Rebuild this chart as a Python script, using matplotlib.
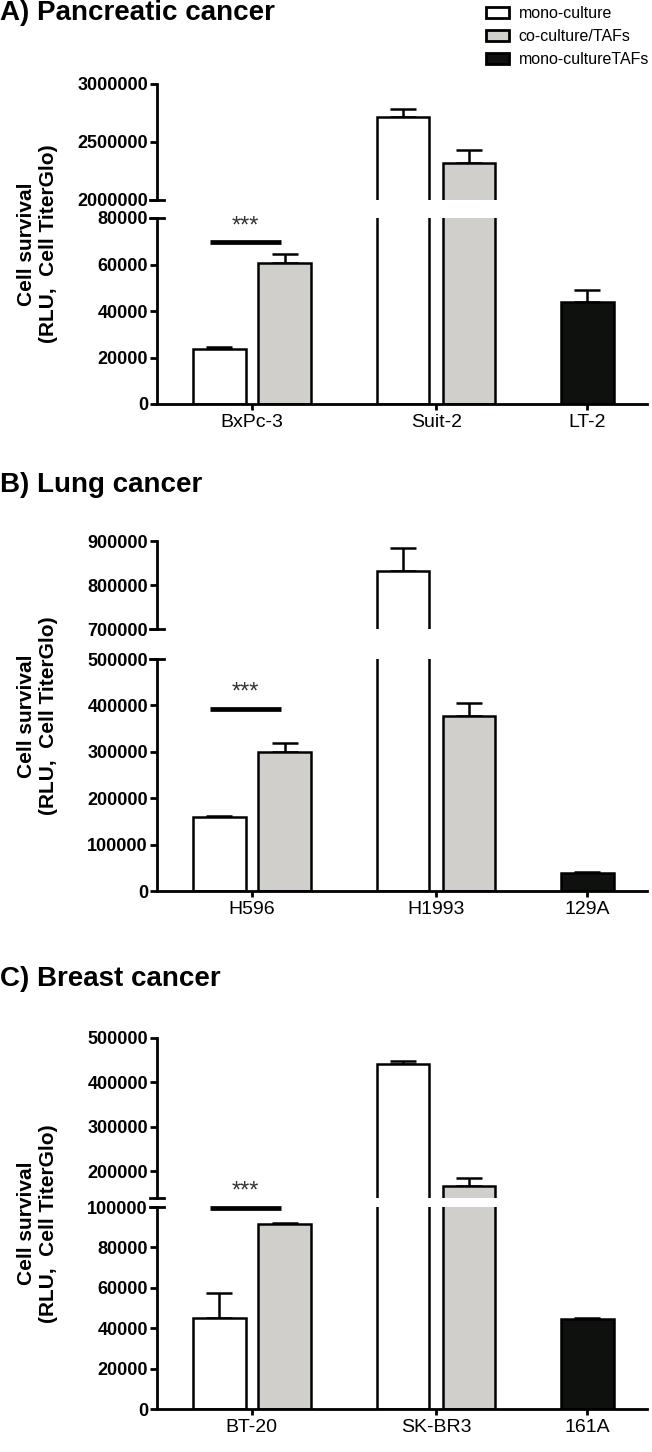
import numpy as np
import matplotlib.pyplot as plt
from matplotlib.patches import Patch

plt.rcParams['font.family'] = ['Liberation Sans', 'DejaVu Sans']

W, H = 652, 1452

series = ['mono-culture', 'co-culture/TAFs', 'mono-cultureTAFs']
ylabel = 'Cell survival\n(RLU,  Cell TiterGlo)'

# A) Pancreatic cancer
a_title = 'A) Pancreatic cancer'
a_cells = ['BxPc-3', 'Suit-2', 'LT-2']
a_mono = [23600, 2718000]
a_mono_err = [1000, 64000]
a_co = [60800, 2316000]
a_co_err = [3600, 115000]
a_tafs = [43800]
a_tafs_err = [5100]
a_upper_ticks = [2000000, 2500000, 3000000]
a_lower_ticks = [0, 20000, 40000, 60000, 80000]
a_sig = 69750

# B) Lung cancer
b_title = 'B) Lung cancer'
b_cells = ['H596', 'H1993', '129A']
b_mono = [158700, 831400]
b_mono_err = [3500, 52700]
b_co = [300600, 377400]
b_co_err = [19400, 27300]
b_tafs = [38000]
b_tafs_err = [3500]
b_upper_ticks = [700000, 800000, 900000]
b_lower_ticks = [0, 100000, 200000, 300000, 400000, 500000]
b_sig = 391800

# C) Breast cancer
c_title = 'C) Breast cancer'
c_cells = ['BT-20', 'SK-BR3', '161A']
c_mono = [45200, 441400]
c_mono_err = [12400, 7500]
c_co = [91600, 167300]
c_co_err = [650, 16700]
c_tafs = [44400]
c_tafs_err = [800]
c_upper_ticks = [200000, 300000, 400000, 500000]
c_lower_ticks = [0, 20000, 40000, 60000, 80000, 100000]
c_sig = 99500

# layout (x in bar-width units, y in pixels of the figure)
mono_x = [1.18, 4.67]
co_x = [2.42, 5.92]
tafs_x = [8.17]
group_x = [1.8, 5.3, 8.17]
sig_x = [1.0, 2.35]
XMAX = 9.3
AX_LEFT, AX_RIGHT = 157, 647

GREY = '#d0cfcb'
BLACK = '#0f110e'
LW = 1.8


def px_axes(fig, top, bottom):
    return fig.add_axes([AX_LEFT / W, 1 - bottom / H, (AX_RIGHT - AX_LEFT) / W, (bottom - top) / H])


def draw_bars(ax, mono, mono_err, co, co_err, tafs, tafs_err):
    for xs, vals, errs, col in [(mono_x, mono, mono_err, 'white'),
                                (co_x, co, co_err, GREY),
                                (tafs_x, tafs, tafs_err, BLACK)]:
        ax.bar(xs, vals, width=1.0, color=col, edgecolor='black', linewidth=LW, zorder=2)
        ax.errorbar(xs, vals, yerr=[np.zeros(len(errs)), errs], fmt='none', ecolor='black',
                    elinewidth=LW, capsize=9.5, capthick=LW, zorder=1)


def style_axis(ax, ticks, lim, bottom_spine):
    ax.set_xlim(0, XMAX)
    ax.set_ylim(*lim)
    ax.set_yticks(ticks)
    ax.set_yticklabels([str(t) for t in ticks], fontsize=13, fontweight='bold')
    ax.spines['top'].set_visible(False)
    ax.spines['right'].set_visible(False)
    ax.spines['left'].set_linewidth(2.0)
    ax.spines['bottom'].set_linewidth(2.0)
    ax.spines['bottom'].set_visible(bottom_spine)
    ax.tick_params(axis='y', length=5, width=2.0, pad=1.5)
    ax.set_facecolor('none')


def panel(fig, title, title_base, cells, mono, mono_err, co, co_err, tafs, tafs_err,
          up_ticks, up_lim, lo_ticks, lo_lim, sig, rows):
    top, brk_hi, brk_lo, bottom = rows
    fig.text(0.0, 1 - title_base / H, title, fontsize=20, fontweight='bold', va='baseline', ha='left')

    ax_up = px_axes(fig, top, brk_hi)
    ax_lo = px_axes(fig, brk_lo, bottom)
    for ax in (ax_up, ax_lo):
        draw_bars(ax, mono, mono_err, co, co_err, tafs, tafs_err)
    style_axis(ax_up, up_ticks, up_lim, False)
    style_axis(ax_lo, lo_ticks, lo_lim, True)
    ax_up.set_xticks([])
    ax_lo.set_xticks(group_x)
    ax_lo.set_xticklabels(cells, fontsize=14)
    ax_lo.tick_params(axis='x', length=4.5, width=2.0, pad=3)

    # break feet on the split y axis
    ax_up.plot([-0.014, 0.014], [0, 0], transform=ax_up.transAxes, color='black', lw=2.0, clip_on=False)
    ax_lo.plot([-0.014, 0.014], [1, 1], transform=ax_lo.transAxes, color='black', lw=2.0, clip_on=False)

    # significance bar
    span = lo_lim[1] - lo_lim[0]
    ax_lo.plot(sig_x, [sig, sig], color='black', lw=3.4, clip_on=False, solid_capstyle='butt')
    ax_lo.text(np.mean(sig_x), sig + span * 0.025, '***', fontsize=17, color='#333333',
               ha='center', va='bottom', clip_on=False)

    mid = (top + bottom) / 2
    fig.text(37.5 / W, 1 - mid / H, ylabel, rotation=90, fontsize=15, fontweight='bold',
             ha='center', va='center', multialignment='center', linespacing=1.15)


fig = plt.figure(figsize=(W / 100, H / 100), dpi=100)

panel(fig, a_title, 20.5, a_cells, a_mono, a_mono_err, a_co, a_co_err, a_tafs, a_tafs_err,
      a_upper_ticks, (2000000, 3000000), a_lower_ticks, (0, 80000), a_sig, (84, 200, 218, 404))
panel(fig, b_title, 491.5, b_cells, b_mono, b_mono_err, b_co, b_co_err, b_tafs, b_tafs_err,
      b_upper_ticks, (700000, 900000), b_lower_ticks, (0, 500000), b_sig, (541, 629, 659, 891))
panel(fig, c_title, 986.5, c_cells, c_mono, c_mono_err, c_co, c_co_err, c_tafs, c_tafs_err,
      c_upper_ticks, (140000, 500000), c_lower_ticks, (0, 100000), c_sig, (1038, 1198, 1207, 1409))

handles = [Patch(facecolor='white', edgecolor='black', linewidth=2.0),
           Patch(facecolor=GREY, edgecolor='black', linewidth=2.0),
           Patch(facecolor=BLACK, edgecolor='black', linewidth=2.0)]
fig.legend(handles, series, loc='upper left', bbox_to_anchor=(486 / W, 1 - 6 / H),
           frameon=False, fontsize=11.5, handlelength=1.45, handleheight=0.7,
           handletextpad=0.6, labelspacing=0.5, borderpad=0, borderaxespad=0)

fig.savefig('out.png', dpi=100, facecolor='white')
